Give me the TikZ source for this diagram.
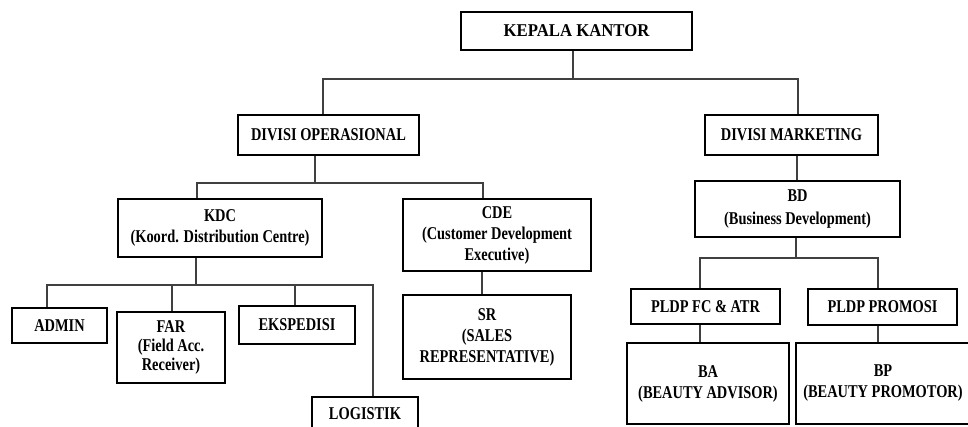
\documentclass[tikz,border=0pt]{standalone}
\usepackage{fontspec}
\setmainfont{Liberation Serif}[FakeStretch=0.8]
\newfontfamily\headfont{Liberation Serif}[FakeStretch=0.93]
\tikzset{
	unit/.style={draw, line width=2.4pt, inner sep=1pt, align=center, font=\bfseries\fontsize{18}{21}\selectfont},
	link/.style={line width=1.3pt, black!75}
}
\begin{document}
		\begin{tikzpicture}[x=1pt,y=-1pt]
			\useasboundingbox (0,0) rectangle (968,427);
			\node [unit, minimum width=231, minimum height=38, font=\headfont\bfseries\fontsize{18}{21}\selectfont] (kepala) at (576.5,31) {KEPALA KANTOR};
			\node [unit, minimum width=181, minimum height=40] (divops) at (328.5,135) {DIVISI OPERASIONAL};
			\node [unit, minimum width=173, minimum height=40] (divmkt) at (791.5,135) {DIVISI MARKETING};
			\node [unit, minimum width=204, minimum height=58] (kdc) at (220,228) {KDC\\(Koord. Distribution Centre)};
			\node [unit, minimum width=188, minimum height=72] (cde) at (497,235) {CDE\\(Customer Development\\Executive)};
			\node [unit, minimum width=205, minimum height=56, font=\bfseries\fontsize{18}{23}\selectfont] (bd) at (797.5,209) {BD\\(Business Development)};
			\node [unit, minimum width=95, minimum height=35] (admin) at (59.5,325.5) {ADMIN};
			\node [unit, minimum width=108, minimum height=71, font=\bfseries\fontsize{18}{19}\selectfont] (far) at (171,347.5) {FAR\\(Field Acc.\\Receiver)};
			\node [unit, minimum width=116, minimum height=38] (eksp) at (297,325) {EKSPEDISI};
			\node [unit, minimum width=106, minimum height=34] (logistik) at (365,414) {LOGISTIK};
			\node [unit, minimum width=168, minimum height=84] (sr) at (487,337) {SR\\(SALES\\REPRESENTATIVE)};
			\node [unit, minimum width=149, minimum height=35] (pldpfc) at (705.5,306.5) {PLDP FC \& ATR};
			\node [unit, minimum width=149, minimum height=36] (pldppro) at (882.5,307) {PLDP PROMOSI};
			\node [unit, minimum width=162, minimum height=81] (ba) at (708,383.5) {BA\\(BEAUTY ADVISOR)};
			\node [unit, minimum width=174, minimum height=81] (bp) at (883,383.5) {BP\\(BEAUTY PROMOTOR)};
			\coordinate (r0) at (573,79);
			\coordinate (r1) at (323,79);
			\coordinate (r2) at (798,79);
			\coordinate (r3) at (315,183);
			\coordinate (r4) at (197,183);
			\coordinate (r5) at (483,183);
			\coordinate (r6) at (797,168);
			\coordinate (r7) at (196,285);
			\coordinate (r8) at (47,285);
			\coordinate (r9) at (172,285);
			\coordinate (r10) at (295,285);
			\coordinate (r11) at (373,285);
			\coordinate (r12) at (482,283);
			\coordinate (r13) at (796,258);
			\coordinate (r14) at (700,258);
			\coordinate (r15) at (878,258);
			\draw [link] (kepala.south -| r0) -- (r0);
			\draw [link] (divops.north -| r1) -- (r1) -- (r2) -- (divmkt.north -| r2);
			\draw [link] (divops.south -| r3) -- (r3);
			\draw [link] (kdc.north -| r4) -- (r4) -- (r5) -- (cde.north -| r5);
			\draw [link] (divmkt.south -| r6) -- (bd.north -| r6);
			\draw [link] (kdc.south -| r7) -- (r7);
			\draw [link] (admin.north -| r8) -- (r8) -- (r11) -- (logistik.north -| r11);
			\draw [link] (far.north -| r9) -- (r9);
			\draw [link] (eksp.north -| r10) -- (r10);
			\draw [link] (cde.south -| r12) -- (sr.north -| r12);
			\draw [link] (bd.south -| r13) -- (r13);
			\draw [link] (pldpfc.north -| r14) -- (r14) -- (r15) -- (pldppro.north -| r15);
			\draw [link] (pldpfc.south -| r14) -- (ba.north -| r14);
			\draw [link] (pldppro.south -| r15) -- (bp.north -| r15);
		\end{tikzpicture}
\end{document}
